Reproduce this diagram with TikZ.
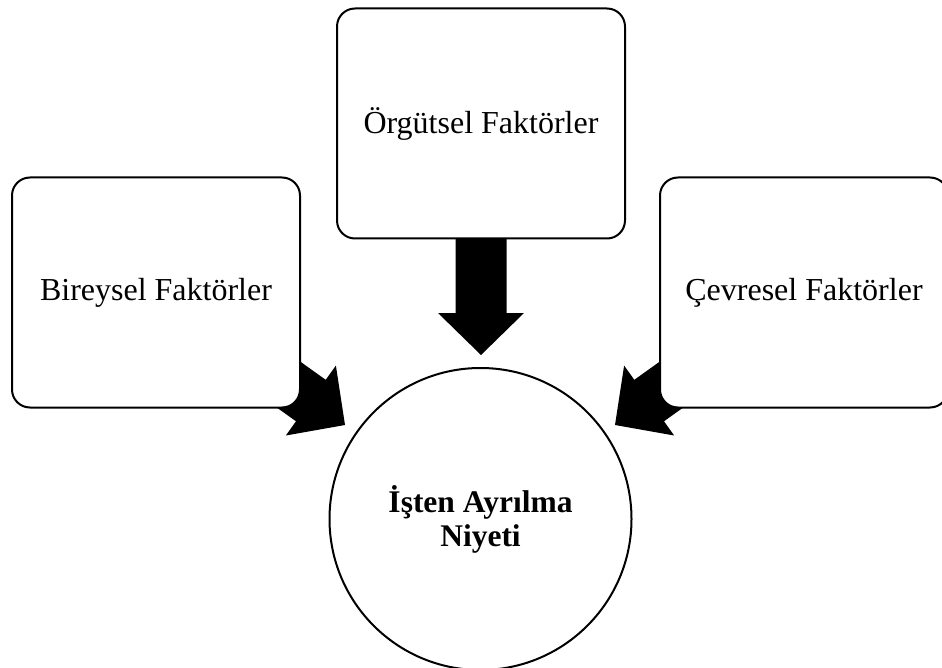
\documentclass[tikz,border=0pt]{standalone}
\usepackage{fontspec}
\setmainfont{Liberation Serif}
\begin{document}
\begin{tikzpicture}[x=1pt,y=-1pt,
  factorbox/.style={draw=black, line width=2pt, fill=white, rounded corners=18pt,
    minimum width=288pt, minimum height=230pt, inner sep=0pt, align=center,
    font=\fontsize{32}{35}\selectfont},
  goal/.style={draw=black, line width=2pt, fill=white, circle, minimum size=302pt,
    inner sep=0pt, align=center, font=\fontsize{31.5}{34}\selectfont\bfseries},
  blockarrow/.style={fill=black}]
\clip (0,0) rectangle (942,668);

% block arrows (tips at the origin, pointing along +x before rotation)
\fill[blockarrow, shift={(481,355)}, rotate=-90]
  (0,0) -- (-42,43) -- (-42,25.5) -- (-125,25.5) -- (-125,-25.5) -- (-42,-25.5) -- (-42,-43) -- cycle;
\fill[blockarrow, shift={(345,425)}, rotate=-35.6]
  (0,0) -- (-42,43) -- (-42,25.5) -- (-110,25.5) -- (-110,-25.5) -- (-42,-25.5) -- (-42,-43) -- cycle;
\fill[blockarrow, shift={(615,425)}, rotate=-144.4]
  (0,0) -- (-42,43) -- (-42,25.5) -- (-110,25.5) -- (-110,-25.5) -- (-42,-25.5) -- (-42,-43) -- cycle;

% factor boxes drawn over the arrow tails
\node[factorbox] (org) at (481,123.5) {Örgütsel Faktörler};
\node[factorbox] (bir) at (156,292.5) {Bireysel Faktörler};
\node[factorbox] (cev) at (804,292.5) {Çevresel Faktörler};

% outcome
\node[goal] (niyet) at (480.5,519) {İşten Ayrılma\\Niyeti};
\end{tikzpicture}
\end{document}
